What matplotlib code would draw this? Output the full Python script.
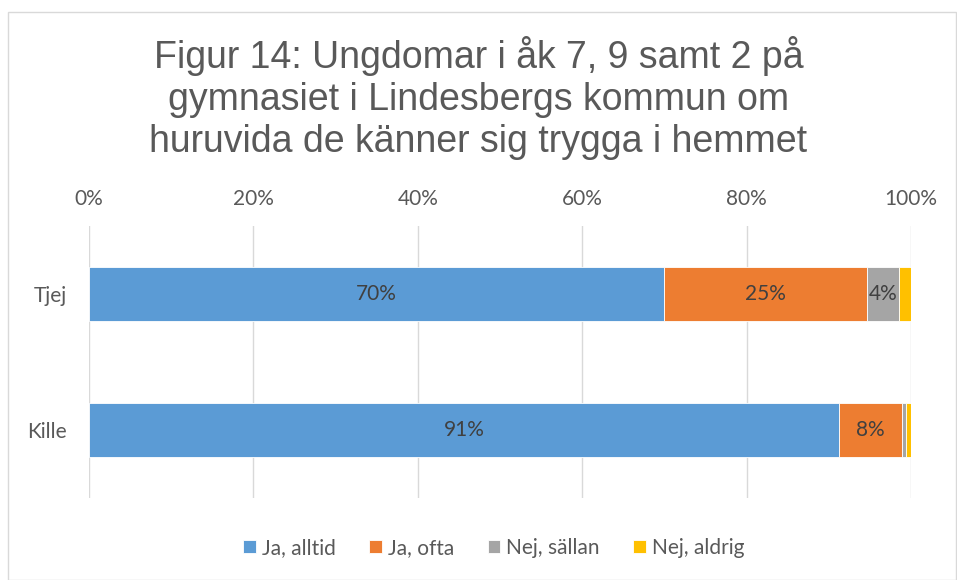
import matplotlib
matplotlib.use("Agg")
import matplotlib.pyplot as plt
from matplotlib.patches import Rectangle

categories = ["Tjej", "Kille"]
series_names = ["Ja, alltid", "Ja, ofta", "Nej, sällan", "Nej, aldrig"]
values = {
    "Ja, alltid": [70.0, 91.3],
    "Ja, ofta": [24.6, 7.6],
    "Nej, sällan": [4.0, 0.5],
    "Nej, aldrig": [1.4, 0.6],
}
colors = ["#5B9BD5", "#ED7D31", "#A5A5A5", "#FFC000"]
xticks = [0, 20, 40, 60, 80, 100]
title = "Figur 14: Ungdomar i åk 7, 9 samt 2 på\ngymnasiet i Lindesbergs kommun om\nhuruvida de känner sig trygga i hemmet"

body_font = ["Lato", "DejaVu Sans"]
text_col = "#595959"
fs = 15

fig = plt.figure(figsize=(9.57, 5.8), dpi=100)
fig.patches.append(Rectangle((8/957, 0), 1 - 8/957 - 0.001, 1 - 12/580, transform=fig.transFigure,
                             fill=False, edgecolor="#d9d9d9", linewidth=1.0))
ax = fig.add_axes([89/957, 1 - 498/580, (911 - 89)/957, (498 - 226)/580])

ypos = list(range(len(categories)))
left = [0.0] * len(categories)
for name, col in zip(series_names, colors):
    vals = values[name]
    ax.barh(ypos, vals, left=left, height=0.40, color=col, edgecolor="white", linewidth=0.6,
            label=name, zorder=3)
    for y, v, l in zip(ypos, vals, left):
        if v >= 3:
            ax.text(l + v / 2, y, f"{round(v):.0f}%", ha="center", va="center",
                    fontsize=fs, color="#404040", family=body_font, zorder=4)
    left = [a + b for a, b in zip(left, vals)]

ax.set_xlim(0, 100)
ax.set_ylim(len(categories) - 0.5, -0.5)
ax.set_yticks(ypos)
ax.set_yticklabels(categories, fontsize=fs, color=text_col, family=body_font)
ax.set_xticks(xticks)
ax.set_xticklabels([f"{t}%" for t in xticks], fontsize=fs, color=text_col, family=body_font)
ax.xaxis.tick_top()
ax.tick_params(axis="y", length=0, pad=16)
ax.tick_params(axis="x", length=0, pad=12)
ax.grid(axis="x", color="#d9d9d9", linewidth=1.0, zorder=0)
for s in ax.spines.values():
    s.set_visible(False)

fig.text(0.5, 1 - 98/580, title, ha="center", va="center", fontsize=27, color=text_col,
         family=["Liberation Sans", "DejaVu Sans"], linespacing=1.22)

leg = fig.legend(loc="center", bbox_to_anchor=(494/957, 1 - 548/580), ncol=4, frameon=False,
                 prop={"family": body_font, "size": fs}, handlelength=0.6, handleheight=0.6,
                 handletextpad=0.3, columnspacing=1.6)
for t in leg.get_texts():
    t.set_color(text_col)

fig.savefig("out.png", dpi=100)
